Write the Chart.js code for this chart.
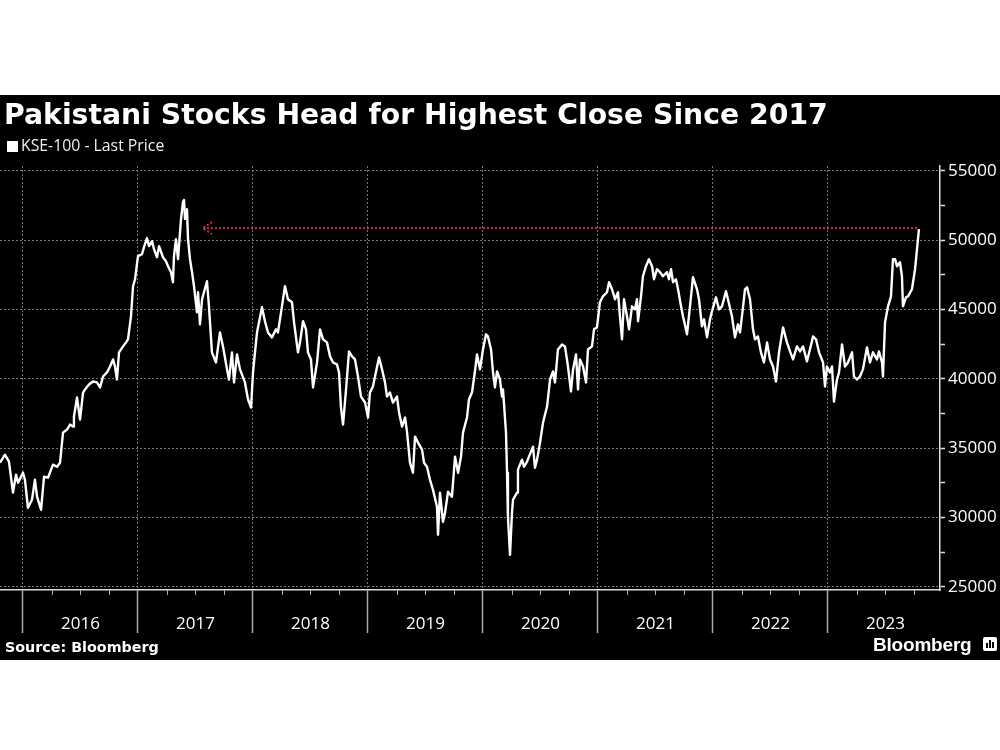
<!DOCTYPE html>
<html>
<head>
<meta charset="utf-8">
<script src="https://cdn.jsdelivr.net/npm/chart.js@4.4.1/dist/chart.umd.min.js"></script>
<style>
  html, body { margin:0; padding:0; background:#fff; width:1000px; height:750px; overflow:hidden; }
  #wrap { position:relative; width:1000px; height:750px; }
  #bg { position:absolute; left:0; top:95px; width:1000px; height:565px; background:#000; }
  #c { position:absolute; left:0; top:0; }
  #title { position:absolute; left:4px; top:101px; font:bold 28.3px/28.3px "DejaVu Sans"; color:#fff; white-space:nowrap; }
  #legend { position:absolute; left:7px; top:137px; font:15.8px/16px "Open Sans"; color:#eee; white-space:nowrap; }
  #legend .sw { display:inline-block; width:11px; height:11px; background:#fff; margin-right:3px; vertical-align:-1px; }
  #source { position:absolute; left:5px; top:640px; font:bold 14.3px/14.3px "DejaVu Sans"; color:#fff; white-space:nowrap; }
  #brand { position:absolute; left:873px; top:635px; font:bold 19px/19px "Liberation Sans"; color:#fff; white-space:nowrap; letter-spacing:-0.2px; }
  #icon { position:absolute; left:983px; top:637px; width:14px; height:14px; background:#fff; border-radius:2px; }
  #icon i { position:absolute; bottom:3px; width:2px; background:#000; }
</style>
</head>
<body>
<div id="wrap">
  <div id="bg"></div>
  <canvas id="c" width="1000" height="750"></canvas>
  <div id="title">Pakistani Stocks Head for Highest Close Since 2017</div>
  <div id="legend"><span class="sw"></span>KSE-100 - Last Price</div>
  <div id="source">Source: Bloomberg</div>
  <div id="brand">Bloomberg</div>
  <div id="icon"><i style="left:3px;height:5px"></i><i style="left:6px;height:8px"></i><i style="left:9px;height:6px"></i></div>
</div>
<script>
// ---- Data (decimal-year dates, KSE-100 index level) ----
const dates = [
  2015.800, 2015.843, 2015.878, 2015.913, 2015.939, 2015.957,
  2016.000, 2016.017, 2016.043, 2016.078, 2016.104, 2016.122, 2016.157, 2016.183, 2016.217, 2016.261,
  2016.296, 2016.322, 2016.348, 2016.383, 2016.409, 2016.435, 2016.443, 2016.470, 2016.496, 2016.522,
  2016.539, 2016.574, 2016.609, 2016.643, 2016.670, 2016.696, 2016.730, 2016.757, 2016.783, 2016.800,
  2016.817, 2016.835, 2016.870, 2016.896, 2016.913, 2016.939, 2016.957, 2016.974,
  2017.000, 2017.035, 2017.052, 2017.078, 2017.096, 2017.122, 2017.139, 2017.165, 2017.183, 2017.217,
  2017.243, 2017.261, 2017.287, 2017.304, 2017.313, 2017.330, 2017.348, 2017.374, 2017.391, 2017.400,
  2017.409, 2017.426, 2017.435, 2017.452, 2017.470, 2017.487, 2017.513, 2017.522, 2017.539, 2017.557,
  2017.600, 2017.617, 2017.643, 2017.678, 2017.713, 2017.739, 2017.774, 2017.791, 2017.817, 2017.835,
  2017.861, 2017.887, 2017.930, 2017.957, 2017.983,
  2018.000, 2018.035, 2018.078, 2018.104, 2018.130, 2018.165, 2018.200, 2018.217, 2018.252, 2018.278,
  2018.304, 2018.339, 2018.357, 2018.391, 2018.409, 2018.435, 2018.461, 2018.478, 2018.504, 2018.522,
  2018.557, 2018.583, 2018.609, 2018.643, 2018.670, 2018.696, 2018.730, 2018.748, 2018.765, 2018.783,
  2018.809, 2018.835, 2018.861, 2018.887, 2018.913, 2018.939, 2018.974,
  2019.000, 2019.017, 2019.043, 2019.061, 2019.096, 2019.122, 2019.148, 2019.165, 2019.191, 2019.217,
  2019.252, 2019.270, 2019.296, 2019.322, 2019.339, 2019.365, 2019.391, 2019.409, 2019.435, 2019.470,
  2019.487, 2019.513, 2019.539, 2019.565, 2019.600, 2019.609, 2019.626, 2019.652, 2019.670, 2019.696,
  2019.730, 2019.757, 2019.783, 2019.809, 2019.826, 2019.861, 2019.878, 2019.904, 2019.930, 2019.948,
  2019.974,
  2020.000, 2020.026, 2020.043, 2020.070, 2020.087, 2020.104, 2020.122, 2020.148, 2020.165, 2020.174,
  2020.200, 2020.209, 2020.217, 2020.235, 2020.252, 2020.261, 2020.296, 2020.304, 2020.339, 2020.357,
  2020.383, 2020.400, 2020.435, 2020.452, 2020.470, 2020.496, 2020.522, 2020.557, 2020.583, 2020.609,
  2020.626, 2020.652, 2020.687, 2020.713, 2020.739, 2020.765, 2020.783, 2020.809, 2020.826, 2020.843,
  2020.870, 2020.896, 2020.913, 2020.948, 2020.965, 2020.991,
  2021.017, 2021.043, 2021.078, 2021.096, 2021.122, 2021.148, 2021.174, 2021.191, 2021.209, 2021.226,
  2021.252, 2021.270, 2021.296, 2021.322, 2021.339, 2021.348, 2021.374, 2021.391, 2021.417, 2021.443,
  2021.470, 2021.487, 2021.513, 2021.539, 2021.565, 2021.600, 2021.617, 2021.635, 2021.652, 2021.678,
  2021.696, 2021.722, 2021.739, 2021.774, 2021.800, 2021.826, 2021.861, 2021.878, 2021.904, 2021.922,
  2021.948, 2021.974, 2021.991,
  2022.026, 2022.052, 2022.078, 2022.113, 2022.130, 2022.165, 2022.191, 2022.217, 2022.235, 2022.261,
  2022.278, 2022.296, 2022.322, 2022.348, 2022.365, 2022.391, 2022.417, 2022.443, 2022.470, 2022.496,
  2022.522, 2022.548, 2022.574, 2022.609, 2022.643, 2022.670, 2022.696, 2022.730, 2022.757, 2022.783,
  2022.817, 2022.843, 2022.870, 2022.896, 2022.922, 2022.957, 2022.974, 2022.991,
  2023.017, 2023.035, 2023.052, 2023.078, 2023.096, 2023.122, 2023.148, 2023.174, 2023.209, 2023.226,
  2023.252, 2023.278, 2023.304, 2023.339, 2023.365, 2023.391, 2023.426, 2023.443, 2023.470, 2023.478,
  2023.496, 2023.522, 2023.548, 2023.565, 2023.583, 2023.600, 2023.626, 2023.643, 2023.652, 2023.678,
  2023.696, 2023.730, 2023.757, 2023.774, 2023.791
];
const kse100 = [
  33960, 34540, 34040, 31800, 33100, 32520,
  33240, 32730, 30710, 31290, 32730, 31510, 30570, 32950, 32880, 33820,
  33670, 33960, 36130, 36350, 36710, 36570, 37290, 38660, 37070, 39020,
  39240, 39600, 39820, 39750, 39390, 40180, 40470, 40900, 41410, 40900,
  39960, 41920, 42350, 42640, 42860, 44520, 46690, 47190,
  48860, 49000, 49510, 50160, 49580, 49940, 49360, 48780, 49580, 48780,
  48490, 48130, 47700, 46980, 48860, 50080, 48640, 51530, 52760, 52900,
  51530, 52250, 50080, 48640, 47700, 46690, 44810, 46250, 43940, 45750,
  47050, 45240, 41920, 41190, 43360, 42350, 40690, 39960, 41920, 39750,
  41770, 40690, 39750, 38520, 37940,
  40470, 43360, 45170, 44160, 43360, 43000, 43580, 43360, 45240, 46690,
  45750, 45530, 44080, 41920, 42640, 44160, 43580, 41920, 41410, 39390,
  41190, 43580, 42860, 42640, 41630, 41190, 41050, 40470, 37940, 36710,
  39240, 41990, 41630, 41410, 40180, 38730, 38300,
  37220, 39020, 39460, 40180, 41550, 40690, 39750, 38730, 39020, 38300,
  38730, 37580, 36570, 37220, 36200, 33960, 33240, 35840, 35410, 34900,
  33960, 33670, 32730, 32010, 30780, 28760, 31800, 29700, 30350, 31870,
  31510, 34400, 33240, 34400, 36130, 37220, 38520, 39020, 40540, 41770,
  40690,
  42130, 43220, 43070, 42130, 40470, 39390, 40540, 39960, 38730, 39240,
  36130, 33240, 30060, 27310, 30350, 31290, 31800, 33460, 34180, 33670,
  34040, 34400, 35120, 33600, 34180, 35410, 36860, 38010, 39960, 40540,
  39750, 42130, 42490, 42350, 40900, 39100, 40690, 41770, 39240, 41410,
  40900, 39750, 42130, 42350, 43580, 43720,
  45530, 45960, 46250, 46980, 46470, 45750, 46250, 44520, 42860, 45750,
  44520, 43580, 45240, 45020, 45750, 44160, 45960, 47410, 48130, 48640,
  48130, 47190, 47920, 47700, 47410, 47700, 47190, 47920, 46980, 47190,
  46470, 45240, 44520, 43220, 45240, 47340, 46470, 45750, 43800, 44300,
  43000, 44300, 44880,
  45890, 45020, 45240, 46330, 45750, 44520, 43000, 43940, 43360, 45170,
  46470, 46610, 45750, 43580, 42860, 43070, 41920, 41190, 42640, 41410,
  40900, 39820, 41920, 43720, 42640, 41990, 41410, 42350, 41990, 42350,
  41270, 42130, 43070, 42860, 41920, 41190, 39460, 40900,
  40470, 40900, 38370, 39960, 40470, 42490, 40900, 41190, 41920, 40180,
  39960, 40180, 40690, 42280, 41190, 41920, 41410, 41990, 41190, 40180,
  44080, 45240, 45960, 48640, 48640, 48130, 48420, 47410, 45240, 45890,
  45960, 46470, 47920, 49360, 50810
];
const yearTicks = [2016, 2017, 2018, 2019, 2020, 2021, 2022, 2023];
const priceTicks = [25000, 30000, 35000, 40000, 45000, 50000, 55000];
// Reference arrow: previous-high level marked back to 2017
const arrowLevel = 50880;
const arrowFrom = 2017.565;
const arrowTo = 2023.791;

const RED = '#c8324a';

const minorTicksPlugin = {
  id: 'minorTicks',
  afterDraw(chart) {
    const { ctx, scales: { x }, chartArea } = chart;
    ctx.save();
    ctx.strokeStyle = '#aaa';
    ctx.lineWidth = 1;
    for (const yr of yearTicks) {
      for (const q of [0.25, 0.5, 0.75]) {
        const px = x.getPixelForValue(yr + q);
        if (px > chartArea.right) continue;
        ctx.beginPath();
        ctx.moveTo(Math.round(px) + 0.5, chartArea.bottom);
        ctx.lineTo(Math.round(px) + 0.5, chartArea.bottom + 5);
        ctx.stroke();
      }
    }
    ctx.restore();
  }
};

const arrowHeadPlugin = {
  id: 'arrowHead',
  afterDatasetsDraw(chart) {
    const { ctx, scales: { x, y } } = chart;
    const px = x.getPixelForValue(arrowFrom);
    const py = y.getPixelForValue(arrowLevel);
    ctx.save();
    ctx.strokeStyle = RED;
    ctx.lineWidth = 2;
    ctx.setLineDash([2, 2]);
    ctx.beginPath();
    ctx.moveTo(px + 9, py - 6);
    ctx.lineTo(px, py);
    ctx.lineTo(px + 9, py + 6);
    ctx.stroke();
    ctx.restore();
  }
};

const priceTickList = [];
for (let v = priceTicks[0]; v <= priceTicks[priceTicks.length - 1]; v += 2500) priceTickList.push(v);

new Chart(document.getElementById('c'), {
  type: 'line',
  data: {
    datasets: [
      {
        label: 'KSE-100 - Last Price',
        data: dates.map((d, i) => ({ x: d, y: kse100[i] })),
        borderColor: '#fff',
        borderWidth: 2.4,
        pointRadius: 0,
        tension: 0,
        borderJoinStyle: 'round',
        order: 1
      },
      {
        label: 'Highest close since 2017',
        data: [{ x: arrowFrom, y: arrowLevel }, { x: arrowTo, y: arrowLevel }],
        borderColor: RED,
        borderWidth: 2,
        borderDash: [2, 2],
        pointRadius: 0,
        order: 2
      }
    ]
  },
  options: {
    responsive: false,
    animation: false,
    devicePixelRatio: 1,
    layout: { padding: { left: 0, right: 0, top: 166, bottom: 90 } },
    plugins: { legend: { display: false }, tooltip: { enabled: false } },
    scales: {
      x: {
        type: 'linear',
        position: 'bottom',
        min: 2015.8,
        max: 2023.974,
        afterBuildTicks: s => { s.ticks = yearTicks.map(v => ({ value: v })); },
        afterFit: s => { s.height = 70; },
        ticks: {
          autoSkip: false, maxRotation: 0, minRotation: 0,
          labelOffset: 57.5, padding: -19,
          color: '#fff', font: { family: 'Open Sans', size: 17 },
          callback: v => String(v)
        },
        grid: { color: '#777', lineWidth: 1, drawTicks: true, tickLength: 43, tickColor: '#aaa', tickWidth: 1.5, tickBorderDash: [] },
        border: { display: true, color: '#ddd', width: 1.5, dash: [2, 2] }
      },
      y: {
        position: 'right',
        min: 24780,
        max: 55360,
        afterBuildTicks: s => { s.ticks = priceTickList.map(v => ({ value: v })); },
        afterFit: s => { s.width = 60; },
        ticks: {
          autoSkip: false, padding: 3,
          color: '#fff', font: { family: 'Open Sans', size: 17 },
          callback: v => (priceTicks.includes(v) ? String(v) : '')
        },
        grid: {
          color: c => (c.tick && priceTicks.includes(c.tick.value)) ? '#777' : 'rgba(0,0,0,0)',
          lineWidth: 1, drawTicks: true, tickLength: 5, tickColor: '#ddd', tickWidth: 1.5, tickBorderDash: []
        },
        border: { display: true, color: '#ddd', width: 1.5, dash: [2, 2] }
      }
    }
  },
  plugins: [minorTicksPlugin, arrowHeadPlugin]
});
</script>
</body>
</html>
